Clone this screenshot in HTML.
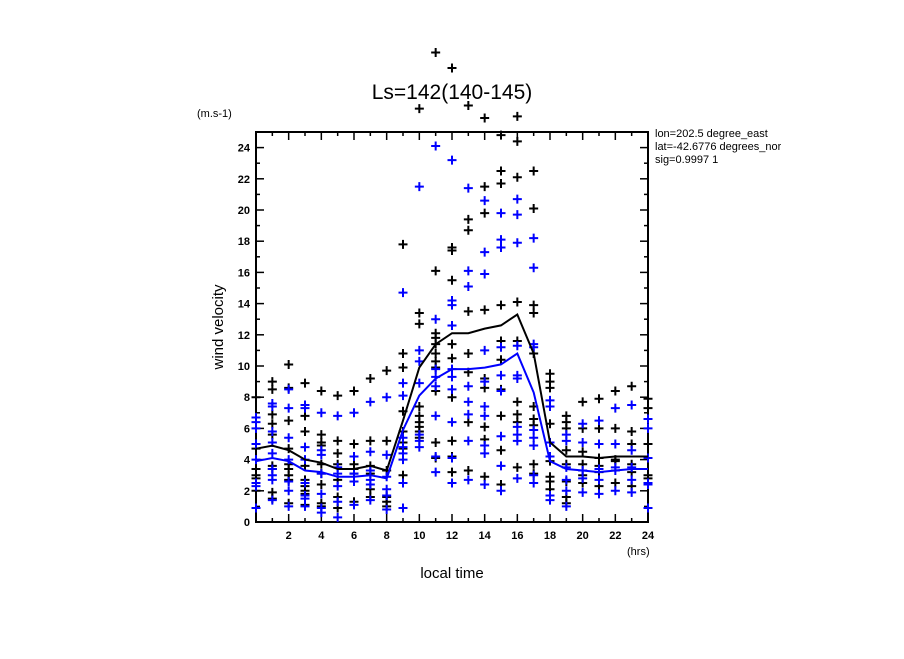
<!DOCTYPE html>
<html><head><meta charset="utf-8"><style>
body{margin:0;background:#fff;}
svg text{font-family:"Liberation Sans",sans-serif;}
</style></head><body>
<svg id="chart" width="904" height="654" viewBox="0 0 904 654" xmlns="http://www.w3.org/2000/svg">
<defs><clipPath id="infoclip"><rect x="650" y="120" width="131" height="60"/></clipPath></defs>
<rect width="904" height="654" fill="#fff"/>
<text x="452" y="99" font-size="21" text-anchor="middle">Ls=142(140-145)</text>
<text x="197" y="117" font-size="11">(m.s-1)</text>
<text x="0" y="0" font-size="15" text-anchor="middle" transform="translate(223,327) rotate(-90)">wind velocity</text>
<text x="452" y="578" font-size="15" text-anchor="middle">local time</text>
<text x="627" y="555" font-size="11">(hrs)</text>
<g clip-path="url(#infoclip)" font-size="11">
<text x="655" y="137">lon=202.5 degree_east</text>
<text x="655" y="150">lat=-42.6776 degrees_north</text>
<text x="655" y="163">sig=0.9997 1</text>
</g>
<g id="axes"></g>
<g id="marks"></g>
</svg>
<script>
const hours=[0,1,2,3,4,5,6,7,8,9,10,11,12,13,14,15,16,17,18,19,20,21,22,23,24];
const blackPoints=[
[8,4.7,3.4,3.0,2.8,2.0],
[9.0,8.5,6.9,6.3,5.6,3.6,3.4,1.9,1.5],
[10.1,8.6,6.5,4.7,3.7,3.4,3.0,2.7,1.2],
[8.9,6.8,5.8,3.6,2.7,2.3,2.0,1.8,1.1],
[8.4,5.6,5.1,4.9,3.7,3.1,2.4,1.2,1.0],
[8.1,5.2,4.4,3.7,2.7,1.6,0.9],
[8.4,5.0,3.7,3.4,3.1,1.3],
[9.2,5.2,3.6,3.1,2.1,1.6],
[9.7,5.2,3.3,1.6,1.3,1.0],
[17.8,10.8,9.9,7.1,5.8,5.1,4.7,3.0,0.9],
[26.5,13.4,12.7,7.4,6.8,6.4,6.1,5.8,5.4],
[30.1,16.1,12.1,11.8,11.4,10.8,10.3,9.9,8.4,5.1,4.1],
[29.1,17.6,17.4,15.5,11.4,10.5,8.0,5.2,4.2,3.2],
[26.7,19.4,18.7,13.5,10.8,9.6,6.4,3.3],
[25.9,21.5,19.8,13.6,9.2,8.6,6.1,5.3,2.9],
[24.8,22.5,21.7,13.9,11.6,10.4,8.5,6.8,4.6,2.4],
[26.0,24.4,22.1,14.1,11.6,7.7,6.9,6.4,3.5],
[22.5,20.1,13.9,13.4,10.8,7.4,6.6,6.2,3.7,3.1],
[9.5,9.0,8.6,6.3,3.9,2.9,2.6,2.1],
[6.8,6.4,6.0,4.6,3.7,2.6,1.6,1.2],
[7.7,6.0,4.5,3.7,3.0,2.5],
[7.9,6.0,4.1,3.6,3.2,2.3],
[8.4,6.0,4.0,3.9,2.5],
[8.7,5.8,5.0,3.7,3.2,2.3],
[7.9,7.3,5.0,4.1,3.0,2.8]];
const bluePoints=[
[6.7,6.4,6.0,5.0,4.0,2.5,2.3,0.9],
[7.6,7.4,5.8,5.1,4.4,3.4,3.0,2.7,1.4],
[8.5,7.3,5.4,4.0,2.6,2.0,1.0],
[7.5,7.3,4.8,4.0,2.5,1.7,1.5,1.0],
[7.0,4.6,4.3,3.1,1.8,0.9,0.6],
[6.8,3.5,3.1,2.3,1.3,0.3],
[7.0,4.2,3.1,2.6,1.1],
[7.7,4.5,3.3,2.7,2.4,1.4],
[8.0,4.3,2.9,2.1,1.7,0.8],
[14.7,8.9,8.1,5.4,4.8,4.4,4.0,2.5,0.9],
[21.5,11.0,10.3,8.9,5.6,5.2,4.8],
[24.1,13.0,9.8,9.3,8.7,6.8,4.2,3.2],
[23.2,14.2,13.9,12.6,9.8,9.3,8.5,6.4,4.1,2.5],
[21.4,16.1,15.1,8.7,7.7,6.9,5.2,2.7],
[20.6,17.3,15.9,11.0,9.0,7.4,6.8,4.9,4.4,2.4],
[19.8,18.1,17.6,11.2,9.4,8.4,5.5,3.6,2.0],
[20.7,19.7,17.9,11.3,9.4,9.2,6.1,5.6,5.2,2.8],
[18.2,16.3,11.4,11.2,5.9,5.4,4.9,3.0,2.5],
[7.8,7.4,5.1,4.2,1.7,1.4],
[5.6,5.2,3.5,2.7,2.0,1.0],
[6.3,5.1,3.3,2.8,1.9],
[6.5,5.0,3.4,2.7,1.8],
[7.3,5.0,3.5,3.3,2.0],
[7.5,4.6,3.5,2.7,1.9],
[6.6,6.0,4.1,2.5,2.4,0.9]];
const blackMean=[4.7,4.9,4.6,4.0,3.8,3.4,3.4,3.6,3.3,6.5,9.9,11.4,12.1,12.1,12.4,12.6,13.3,10.8,5.1,4.2,4.2,4.1,4.2,4.2,4.2];
const blueMean=[3.9,4.1,3.9,3.3,3.2,2.9,2.9,3.0,2.8,5.9,8.1,9.2,9.8,9.8,9.9,10.1,10.8,8.3,3.9,3.4,3.3,3.2,3.3,3.4,3.4];
const yTicks=[0,2,4,6,8,10,12,14,16,18,20,22,24];
const xTicks=[2,4,6,8,10,12,14,16,18,20,22,24];

const L=256,R=648,T=132,B=522;
const xs=v=>L+(v/24)*(R-L);
const ys=v=>B-(v/25)*(B-T);
const NS="http://www.w3.org/2000/svg";
function mk(tag,attrs,parent){const e=document.createElementNS(NS,tag);for(const k in attrs)e.setAttribute(k,attrs[k]);parent.appendChild(e);return e;}
const axes=document.getElementById('axes'),marks=document.getElementById('marks');
const frame=mk('rect',{x:L,y:T,width:R-L,height:B-T,fill:'none',stroke:'#000','stroke-width':2},axes);


for(let v=0;v<=25;v++){
  const y=ys(v),len=(v%2===0)?8:4;
  mk('line',{x1:L,y1:y,x2:L+len,y2:y,stroke:'#000','stroke-width':1.5},axes);
  mk('line',{x1:R,y1:y,x2:R-len,y2:y,stroke:'#000','stroke-width':1.5},axes);
}
for(let v=1;v<24;v++){
  const x=xs(v),len=(v%2===0)?8:4;
  mk('line',{x1:x,y1:B,x2:x,y2:B-len,stroke:'#000','stroke-width':1.5},axes);
  mk('line',{x1:x,y1:T,x2:x,y2:T+len,stroke:'#000','stroke-width':1.5},axes);
}
yTicks.forEach(v=>{
  const t=mk('text',{x:L-6,y:ys(v)+4,'font-size':11,'font-weight':'bold','text-anchor':'end'},axes);
  t.textContent=v;
  
  
});
xTicks.forEach(v=>{
  const t=mk('text',{x:xs(v),y:B+17,'font-size':11,'font-weight':'bold','text-anchor':'middle'},axes);
  t.textContent=v;
  
  
});
function plus(x,y,color,g){
  mk('path',{d:`M${x-4.5},${y}H${x+4.5}M${x},${y-4.5}V${y+4.5}`,stroke:color,'stroke-width':2,fill:'none'},g);
}
function drawPoints(arr,color,name){
  const g=mk('g',{},marks);
  
  
  arr.forEach((vals,i)=>vals.forEach(v=>plus(xs(hours[i]),ys(v),color,g)));
}
function drawLine(arr,color,name){
  const d=arr.map((v,i)=>(i?'L':'M')+xs(hours[i]).toFixed(1)+','+ys(v).toFixed(1)).join('');
  const p=mk('path',{d:d,stroke:color,'stroke-width':2,fill:'none'},marks);
  
  
}
drawPoints(blackPoints,'#000','black-points');
drawPoints(bluePoints,'#0000ff','blue-points');
drawLine(blackMean,'#000','black-mean-line');
drawLine(blueMean,'#0000ff','blue-mean-line');
</script>
</body></html>
